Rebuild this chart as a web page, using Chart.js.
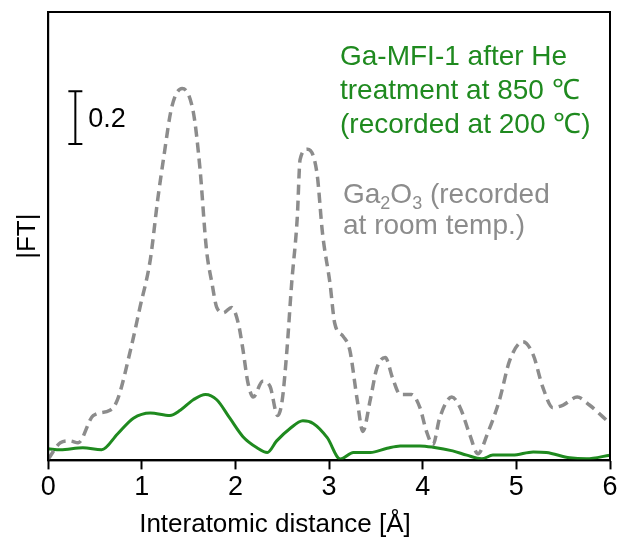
<!DOCTYPE html>
<html lang="en">
<head>
    <meta charset="UTF-8">
    <title>FT EXAFS</title>
    <script src="https://cdn.jsdelivr.net/npm/chart.js"></script>
    <style>
        body {
            margin: 0;
            background: #ffffff;
        }
        .chart-container {
            width: 620px;
            height: 543px;
        }
    </style>
</head>
<body>

    <div class="chart-container">
        <canvas id="ftChart"></canvas>
    </div>

    <script>
        // Ga2O3 reference (gray dashed)
        const ga2o3R = [0, 0.13, 0.23, 0.32, 0.48, 0.66, 0.74, 0.88, 0.98, 1.09, 1.17, 1.23, 1.32, 1.43, 1.55, 1.62, 1.69, 1.75, 1.80, 1.87, 1.96, 2.03, 2.08, 2.13, 2.19, 2.29, 2.37, 2.45, 2.50, 2.55, 2.60, 2.66, 2.69, 2.77, 2.87, 2.93, 3.01, 3.06, 3.15, 3.22, 3.30, 3.36, 3.44, 3.51, 3.60, 3.68, 3.76, 3.88, 3.97, 4.04, 4.11, 4.18, 4.31, 4.40, 4.50, 4.59, 4.69, 4.82, 4.93, 5.07, 5.18, 5.28, 5.39, 5.50, 5.65, 5.78, 6.0];
        const ga2o3FT = [0.005, 0.067, 0.074, 0.067, 0.17, 0.19, 0.23, 0.42, 0.58, 0.76, 0.99, 1.14, 1.34, 1.41, 1.32, 1.11, 0.80, 0.67, 0.58, 0.56, 0.58, 0.52, 0.42, 0.30, 0.24, 0.30, 0.28, 0.17, 0.23, 0.42, 0.67, 0.92, 1.14, 1.18, 1.09, 0.86, 0.67, 0.52, 0.47, 0.42, 0.23, 0.11, 0.23, 0.35, 0.39, 0.31, 0.25, 0.25, 0.20, 0.11, 0.06, 0.16, 0.24, 0.20, 0.10, 0.025, 0.10, 0.23, 0.38, 0.45, 0.40, 0.28, 0.20, 0.21, 0.24, 0.21, 0.14];

        // Ga-MFI-1 after He treatment (green solid)
        const gaMfiR = [0, 0.13, 0.37, 0.57, 0.74, 0.91, 1.09, 1.30, 1.41, 1.55, 1.68, 1.80, 1.94, 2.08, 2.23, 2.34, 2.44, 2.58, 2.72, 2.83, 2.98, 3.12, 3.26, 3.44, 3.62, 3.76, 3.97, 4.11, 4.32, 4.47, 4.63, 4.75, 4.96, 5.18, 5.32, 5.57, 5.75, 6.0];
        const gaMfiFT = [0.044, 0.04, 0.048, 0.04, 0.10, 0.16, 0.18, 0.17, 0.19, 0.23, 0.25, 0.23, 0.16, 0.09, 0.048, 0.03, 0.074, 0.12, 0.15, 0.14, 0.086, 0.005, 0.03, 0.03, 0.046, 0.055, 0.055, 0.05, 0.036, 0.02, 0.006, 0.02, 0.02, 0.032, 0.03, 0.01, 0.006, 0.02];

        const xTicks = [0, 1, 2, 3, 4, 5, 6];
        const scaleBarValue = 0.2;
        const xTitle = 'Interatomic distance [Å]';

        const toPoints = (xs, ys) => xs.map((x, i) => ({ x: x, y: ys[i] }));
        const FONT = '"Liberation Sans", Arial, sans-serif';

        const annotations = {
            id: 'annotations',
            afterDraw(chart) {
                const { ctx, chartArea, scales } = chart;
                ctx.save();

                // frame
                ctx.strokeStyle = '#000';
                ctx.lineWidth = 2;
                ctx.strokeRect(chartArea.left, chartArea.top, chartArea.right - chartArea.left, chartArea.bottom - chartArea.top);

                // x title (sits left of centre in the original)
                ctx.fillStyle = '#000';
                ctx.font = '26px ' + FONT;
                ctx.textAlign = 'center';
                ctx.textBaseline = 'middle';
                ctx.fillText(xTitle, 275, scales.x.bottom - 18);
                ctx.textAlign = 'left';
                ctx.textBaseline = 'alphabetic';

                // scale bar
                const bx = scales.x.getPixelForValue(0.29);
                const yTop = scales.y.getPixelForValue(1.40);
                const yBot = scales.y.getPixelForValue(1.40 - scaleBarValue);
                ctx.beginPath();
                ctx.moveTo(bx, yTop); ctx.lineTo(bx, yBot);
                ctx.moveTo(bx - 7, yTop); ctx.lineTo(bx + 7, yTop);
                ctx.moveTo(bx - 7, yBot); ctx.lineTo(bx + 7, yBot);
                ctx.stroke();
                ctx.font = '27px ' + FONT;
                ctx.fillText(String(scaleBarValue), bx + 13, 127);

                // green label
                ctx.fillStyle = '#1f8a1f';
                ctx.font = '28px ' + FONT;
                ctx.fillText('Ga-MFI-1 after He', 340, 65);
                ctx.fillText('treatment at 850 \u2103', 340, 99);
                ctx.fillText('(recorded at 200 \u2103)', 340, 133);

                // gray label with subscripts
                ctx.fillStyle = '#8c8c8c';
                let x = 343;
                const base = 203;
                const parts = [['Ga', false], ['2', true], ['O', false], ['3', true], [' (recorded', false]];
                parts.forEach(([t, sub]) => {
                    ctx.font = (sub ? '18px ' : '28px ') + FONT;
                    ctx.fillText(t, x, sub ? base + 6 : base);
                    x += ctx.measureText(t).width;
                });
                ctx.font = '28px ' + FONT;
                ctx.fillText('at room temp.)', 343, 234);

                ctx.restore();
            }
        };

        const ctx = document.getElementById('ftChart').getContext('2d');
        new Chart(ctx, {
            type: 'line',
            data: {
                datasets: [
                    {
                        label: 'Ga2O3',
                        data: toPoints(ga2o3R, ga2o3FT),
                        borderColor: '#8c8c8c',
                        borderWidth: 3.5,
                        borderDash: [10, 6],
                        pointRadius: 0,
                        cubicInterpolationMode: 'monotone',
                        fill: false
                    },
                    {
                        label: 'Ga-MFI-1',
                        data: toPoints(gaMfiR, gaMfiFT),
                        borderColor: '#1f8a1f',
                        borderWidth: 3,
                        pointRadius: 0,
                        cubicInterpolationMode: 'monotone',
                        fill: false
                    }
                ]
            },
            options: {
                responsive: true,
                maintainAspectRatio: false,
                animation: false,
                layout: { padding: { top: 12, right: 10, left: 3, bottom: 0 } },
                plugins: {
                    legend: { display: false },
                    tooltip: { enabled: false }
                },
                scales: {
                    x: {
                        type: 'linear',
                        min: 0,
                        max: 6,
                        afterBuildTicks: (axis) => { axis.ticks = xTicks.map(v => ({ value: v })); },
                        grid: {
                            drawOnChartArea: false,
                            drawTicks: true,
                            tickLength: 9,
                            tickWidth: 2,
                            color: '#000'
                        },
                        border: { color: '#000', width: 2 },
                        ticks: {
                            color: '#000',
                            padding: 2,
                            maxRotation: 0,
                            font: { family: FONT, size: 27 }
                        },
                        title: {
                            display: true,
                            text: xTitle,
                            color: 'rgba(0,0,0,0)',
                            padding: { top: 4, bottom: 2 },
                            font: { family: FONT, size: 26 }
                        }
                    },
                    y: {
                        min: 0,
                        max: 1.70,
                        grid: { display: false, drawTicks: false },
                        border: { color: '#000', width: 2 },
                        ticks: { display: false },
                        title: {
                            display: true,
                            text: '|FT|',
                            color: '#000',
                            padding: { top: 9, bottom: 5 },
                            font: { family: FONT, size: 26 }
                        }
                    }
                }
            },
            plugins: [annotations]
        });
    </script>

</body>
</html>
